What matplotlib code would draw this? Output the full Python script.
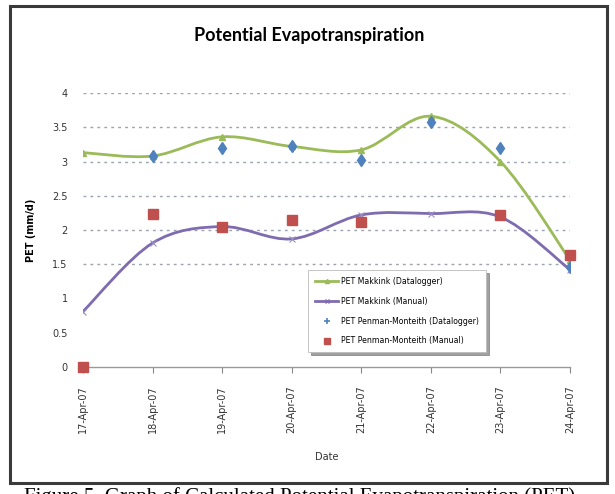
import numpy as np
import matplotlib.pyplot as plt
from matplotlib.path import Path
from matplotlib.patches import PathPatch, Rectangle
from matplotlib.lines import Line2D

# =====================
# 数据
# =====================
dates = ['17-Apr-07', '18-Apr-07', '19-Apr-07', '20-Apr-07',
         '21-Apr-07', '22-Apr-07', '23-Apr-07', '24-Apr-07']
makkink_logger = [3.13, 3.08, 3.36, 3.22, 3.17, 3.66, 3.00, 1.56]
makkink_manual = [0.81, 1.81, 2.05, 1.87, 2.22, 2.24, 2.19, 1.42]
penman_logger = [np.nan, 3.08, 3.20, 3.22, 3.02, 3.58, 3.20, 1.46]
penman_manual = [0.0, 2.24, 2.04, 2.14, 2.11, np.nan, 2.22, 1.63]
y_ticks = [0, 0.5, 1, 1.5, 2, 2.5, 3, 3.5, 4]
y_tick_labels = ['0', '0.5', '1', '1.5', '2', '2.5', '3', '3.5', '4']
labels = ['PET Makkink (Datalogger)', 'PET Makkink (Manual)',
          'PET Penman-Monteith (Datalogger)', 'PET Penman-Monteith (Manual)']

GREEN = '#9bbb59'
PURPLE = '#7e6bb0'
BLUE = '#4f81bd'
RED = '#c0504d'


def smooth_path(x, y):
    # Excel 风格平滑线 (Catmull-Rom -> 三次贝塞尔)
    p = np.column_stack([x, y]).astype(float)
    n = len(p)
    verts = [p[0]]
    codes = [Path.MOVETO]
    for i in range(n - 1):
        p0 = p[i - 1] if i > 0 else p[i]
        p3 = p[i + 2] if i + 2 < n else p[i + 1]
        c1 = p[i] + (p[i + 1] - p0) / 6
        c2 = p[i + 1] - (p3 - p[i]) / 6
        verts += [c1, c2, p[i + 1]]
        codes += [Path.CURVE4] * 3
    return Path(verts, codes)


fig = plt.figure(figsize=(6.15, 4.94), dpi=100)
ax = fig.add_axes([83 / 615, 1 - 367 / 494, 487 / 615, 274 / 494])

x = np.arange(len(dates))

# 平滑线
for vals, col in [(makkink_logger, GREEN), (makkink_manual, PURPLE)]:
    ax.add_patch(PathPatch(smooth_path(x, vals), facecolor='none',
                           edgecolor=col, lw=2.0, zorder=3))

ax.plot(x, makkink_logger, ls='none', marker='^', ms=5, color=GREEN, zorder=4)
ax.plot(x, makkink_manual, ls='none', marker='x', ms=4, mew=0.8,
        color='#9a90c0', zorder=4)
ax.plot(x, penman_logger, ls='none', marker='d', ms=6, color=BLUE, zorder=5)
ax.plot(x, penman_manual, ls='none', marker='s', ms=6.5, color=RED,
        zorder=5, clip_on=False)

# 坐标轴
ax.set_xlim(0, len(dates) - 1)
ax.set_ylim(0, 4)
ax.set_xticks(x)
ax.set_xticklabels(dates, rotation=90, fontsize=7, color='#333333')
ax.set_yticks(y_ticks)
ax.set_yticklabels(y_tick_labels, fontsize=7, color='#333333')
ax.tick_params(axis='y', length=0, pad=11)
ax.tick_params(axis='x', length=4, width=0.8, color='#888888',
               direction='out', pad=9)

for side in ['top', 'right', 'left']:
    ax.spines[side].set_visible(False)
ax.spines['bottom'].set_color('#999999')
ax.spines['bottom'].set_linewidth(1.0)

# 网格 (只在 1.5 以上可见)
ax.yaxis.grid(True, color='#9aa3b0', linestyle=(0, (2, 3)), lw=1.0)
for val, gl in zip(y_ticks, ax.get_ygridlines()):
    if val < 1.5:
        gl.set_visible(False)
ax.set_axisbelow(True)

ax.set_xlabel('Date', fontsize=7, color='#333333', labelpad=14)
ax.set_ylabel('PET (mm/d)', fontsize=7, fontweight='bold', labelpad=12)

# 图例
handles = [
    Line2D([], [], color=GREEN, lw=2, marker='^', ms=3),
    Line2D([], [], color=PURPLE, lw=2, marker='x', ms=3),
    Line2D([], [], ls='none', color=BLUE, marker='+', ms=5, mew=1.2),
    Line2D([], [], ls='none', color=RED, marker='s', ms=5),
]
leg = ax.legend(handles, labels, loc='upper left',
                bbox_to_anchor=(0.462, 0.355), fontsize=5.6,
                frameon=True, fancybox=False, shadow={'color': '#444444'},
                edgecolor='#bbbbbb', handlelength=3.0, handletextpad=0.4,
                labelspacing=1.4, borderpad=0.9, borderaxespad=0)
leg.get_frame().set_linewidth(0.6)

# 标题
fig.text(309 / 615, 1 - 36 / 494, 'Potential Evapotranspiration',
         ha='center', va='center', fontsize=13, fontweight='bold',
         family='Lato')

# 外框
fig.patches.append(Rectangle((10 / 615, 1 - 483 / 494), 597 / 615,
                             477 / 494, transform=fig.transFigure,
                             fill=False, edgecolor='#3a3a3a', lw=2.2))

# 图注 (底部被裁切, 与原图一致)
fig.text(300 / 615, 1 - 487 / 494,
         'Figure 5. Graph of Calculated Potential Evapotranspiration (PET)',
         ha='center', va='top', fontsize=15, family='Liberation Serif')

fig.savefig('out.png', dpi=100)
